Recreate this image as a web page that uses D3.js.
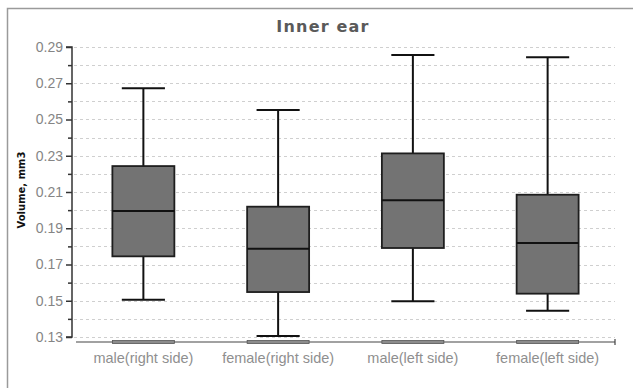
<!DOCTYPE html>
<html>
<head>
<meta charset="utf-8">
<script src="https://cdn.jsdelivr.net/npm/d3@7"></script>
<style>
  body { margin: 0; background: #fff; }
  svg { display: block; }
  .grid line { stroke: #cfcfcf; stroke-dasharray: 3,3; }
  .yaxis text { fill: #858585; font-family: "Liberation Sans", sans-serif; font-size: 14px; }
  .xaxis text { fill: #8f8f8f; font-family: "Liberation Sans", sans-serif; font-size: 14.5px; }
</style>
</head>
<body>
<script>
(function(){
    //box plot data
    var categories = ["male(right side)", "female(right side)", "male(left side)", "female(left side)"];
    var minValues = [0.1506, 0.1305, 0.1497, 0.1445];
    var q1Values = [0.1745, 0.1548, 0.1791, 0.1539];
    var medianValues = [0.1995, 0.1787, 0.2054, 0.1819];
    var q3Values = [0.2243, 0.2019, 0.2313, 0.2085];
    var maxValues = [0.2672, 0.2552, 0.2856, 0.2843];
    var majorTicks = [0.13, 0.15, 0.17, 0.19, 0.21, 0.23, 0.25, 0.27, 0.29];
    var gridTicks = [0.13, 0.14, 0.15, 0.16, 0.17, 0.18, 0.19, 0.20, 0.21, 0.22, 0.23, 0.24, 0.25, 0.26, 0.27, 0.28, 0.29];

    var width = 633, height = 388;

    function isMajor(d){
        return majorTicks.some(function(m){ return Math.abs(m - d) < 1e-6; });
    }

    var svg = d3.select("body")
        .append("svg")
        .attr("width", width)
        .attr("height", height);

    //outer frame, open at right and bottom
    svg.append("path")
        .attr("d", "M7.5," + height + "V8.5H" + width)
        .attr("fill", "none")
        .attr("stroke", "#9a9a9a")
        .attr("stroke-width", 1.5);

    //scales
    var yScale = d3.scaleLinear()
        .domain([0.13, 0.29])
        .range([337, 47]);

    var xScale = d3.scaleBand()
        .domain(categories)
        .range([76, 615]);

    var boxWidth = xScale.bandwidth() * 0.46,
        capWidth = xScale.bandwidth() * 0.32;

    //dotted gridlines
    svg.append("g")
        .attr("class", "grid")
        .selectAll("line")
        .data(gridTicks)
        .enter()
        .append("line")
        .attr("x1", 74)
        .attr("x2", 615)
        .attr("y1", function(d){ return Math.round(yScale(d)) + 0.5; })
        .attr("y2", function(d){ return Math.round(yScale(d)) + 0.5; });

    //y axis
    var yAxis = d3.axisLeft(yScale)
        .tickValues(gridTicks)
        .tickSize(6)
        .tickPadding(3)
        .tickFormat(function(d){ return isMajor(d) ? d3.format(".2f")(d) : ""; });

    var yG = svg.append("g")
        .attr("class", "yaxis")
        .attr("transform", "translate(72,0)")
        .call(yAxis);
    yG.select(".domain").attr("stroke", "#333").attr("stroke-width", 1.5)
        .attr("d", "M-6," + yScale(0.29) + "H0V" + yScale(0.13) + "H-6");
    yG.selectAll(".tick line")
        .attr("stroke", "#333").attr("stroke-width", 1.5)
        .attr("x2", function(d){ return isMajor(d) ? -6 : -4; });

    //x axis
    var xAxis = d3.axisBottom(xScale)
        .tickSize(0)
        .tickPadding(11);

    var xG = svg.append("g")
        .attr("class", "xaxis")
        .attr("transform", "translate(0,342)")
        .call(xAxis);
    xG.select(".domain").attr("stroke", "#444").attr("stroke-width", 1.2)
        .attr("d", "M76,0H615M615,-3V3");

    //flat bars sitting on the x axis
    svg.selectAll(".base")
        .data(categories)
        .enter()
        .append("rect")
        .attr("class", "base")
        .attr("x", function(d){ return xScale(d) + (xScale.bandwidth() - boxWidth) / 2; })
        .attr("y", 340.5)
        .attr("width", boxWidth)
        .attr("height", 3)
        .attr("fill", "#8c8c8c")
        .attr("stroke", "#555")
        .attr("stroke-width", 0.8);

    //boxes
    var boxes = svg.selectAll(".box")
        .data(categories)
        .enter()
        .append("g")
        .attr("class", "box")
        .attr("transform", function(d){ return "translate(" + (xScale(d) + xScale.bandwidth() / 2) + ",0)"; });

    //whiskers
    boxes.append("line")
        .attr("x1", 0).attr("x2", 0)
        .attr("y1", function(d, i){ return yScale(maxValues[i]); })
        .attr("y2", function(d, i){ return yScale(minValues[i]); })
        .attr("stroke", "#111").attr("stroke-width", 2);

    boxes.selectAll(".cap")
        .data(function(d, i){ return [minValues[i], maxValues[i]]; })
        .enter()
        .append("line")
        .attr("class", "cap")
        .attr("x1", -capWidth / 2).attr("x2", capWidth / 2)
        .attr("y1", function(v){ return yScale(v); })
        .attr("y2", function(v){ return yScale(v); })
        .attr("stroke", "#111").attr("stroke-width", 2);

    boxes.append("rect")
        .attr("x", -boxWidth / 2)
        .attr("width", boxWidth)
        .attr("y", function(d, i){ return yScale(q3Values[i]); })
        .attr("height", function(d, i){ return yScale(q1Values[i]) - yScale(q3Values[i]); })
        .attr("fill", "#737373")
        .attr("stroke", "#1e1e1e")
        .attr("stroke-width", 1.8);

    boxes.append("line")
        .attr("x1", -boxWidth / 2).attr("x2", boxWidth / 2)
        .attr("y1", function(d, i){ return yScale(medianValues[i]); })
        .attr("y2", function(d, i){ return yScale(medianValues[i]); })
        .attr("stroke", "#111").attr("stroke-width", 2);

    //title
    svg.append("text")
        .attr("x", 323)
        .attr("y", 32)
        .attr("text-anchor", "middle")
        .attr("font-family", "DejaVu Sans, sans-serif")
        .attr("font-weight", "bold")
        .attr("font-size", 16)
        .attr("letter-spacing", 1.2)
        .attr("fill", "#5a5a5a")
        .text("Inner ear");

    //y axis label
    svg.append("text")
        .attr("transform", "translate(25,190) rotate(-90)")
        .attr("text-anchor", "middle")
        .attr("font-family", "DejaVu Sans, sans-serif")
        .attr("font-weight", "bold")
        .attr("font-size", 10)
        .attr("fill", "#111")
        .text("Volume, mm3");
})();
</script>
</body>
</html>
